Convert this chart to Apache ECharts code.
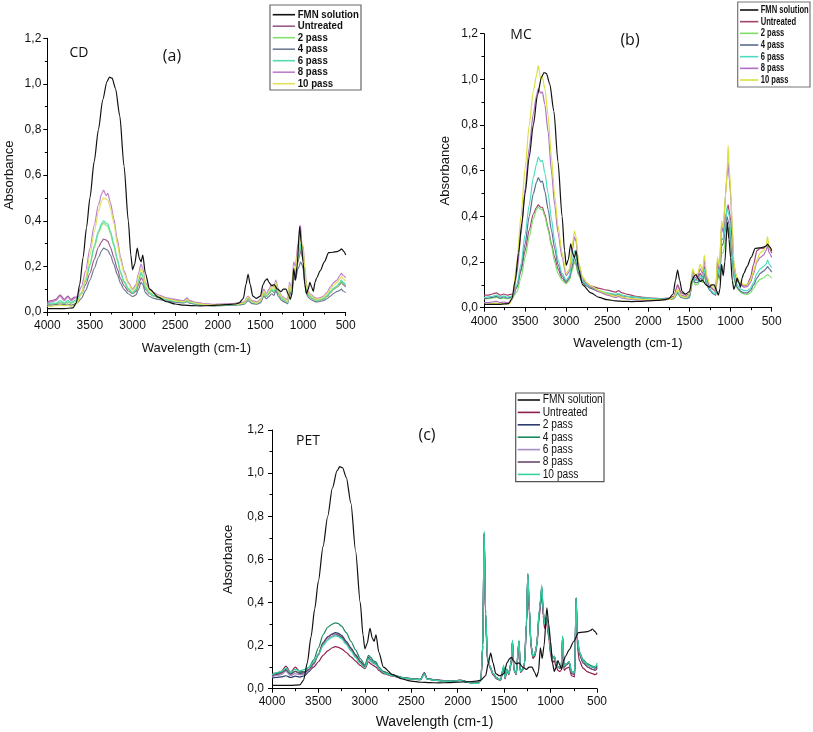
<!DOCTYPE html>
<html><head><meta charset="utf-8">
<script src="https://cdn.jsdelivr.net/npm/echarts@6/dist/echarts.min.js"></script>
<style>html,body{margin:0;padding:0;background:#fff}#c{width:813px;height:732px}</style>
</head><body><div id="c"></div>
<script>
// ---------- DATA ----------
const SERIES_NAMES = ['FMN solution','Untreated','2 pass','4 pass','6 pass','8 pass','10 pass'];
const X_TICK_LABELS = ['500','1000','1500','2000','2500','3000','3500','4000'];
const Y_TICK_LABELS = ['0,0','0,2','0,4','0,6','0,8','1,0','1,2'];

// FMN solution spectrum (same reference in all panels)
const WF = [4000,3900,3800,3700,3660,3620,3580,3540,3500,3450,
  3400,3350,3300,3270,3240,3200,3150,3100,3050,3020,
  3000,2975,2945,2920,2900,2880,2850,2800,2700,2600,
  2500,2400,2300,2200,2100,2000,1900,1800,1750,1700,
  1670,1645,1620,1590,1550,1500,1470,1440,1420,1400,
  1370,1340,1300,1260,1230,1200,1170,1150,1130,1110,
  1090,1070,1040,1020,1000,980,960,940,920,900,
  880,860,840,800,750,700,650,600,570,550,
  520,500];
const FMN = [0.015,0.015,0.015,0.018,0.04,0.12,0.24,0.37,0.5,0.66,
  0.8,0.93,1.01,1.03,1.025,0.98,0.86,0.64,0.4,0.25,
  0.185,0.21,0.28,0.235,0.22,0.25,0.17,0.1,0.065,0.045,
  0.035,0.03,0.028,0.027,0.028,0.03,0.032,0.035,0.04,0.06,
  0.12,0.165,0.12,0.07,0.06,0.07,0.12,0.14,0.145,0.13,
  0.115,0.12,0.1,0.09,0.1,0.1,0.075,0.055,0.08,0.19,
  0.14,0.2,0.375,0.3,0.22,0.12,0.08,0.1,0.13,0.11,
  0.09,0.13,0.15,0.18,0.22,0.26,0.262,0.265,0.27,0.277,
  0.265,0.25];

// Panels (a) CD and (b) MC wavenumbers
const WAB = [4000,3950,3900,3850,3800,3760,3720,3680,3650,3600,
  3550,3500,3450,3400,3360,3340,3310,3290,3260,3220,
  3180,3140,3100,3050,3000,2960,2930,2900,2880,2850,
  2800,2750,2700,2600,2500,2400,2360,2330,2250,2150,
  2050,1950,1850,1750,1690,1645,1600,1540,1500,1460,
  1430,1400,1370,1340,1320,1290,1250,1210,1180,1160,
  1135,1110,1090,1060,1045,1030,1015,1000,980,960,
  940,920,900,870,840,800,760,720,680,640,
  600,570,550,530,500];

// (a) CD
const A_UNT = [0.045,0.05,0.055,0.075,0.055,0.07,0.055,0.065,0.06,0.08,
  0.12,0.17,0.23,0.285,0.31,0.32,0.315,0.31,0.285,0.24,
  0.19,0.145,0.115,0.092,0.08,0.09,0.12,0.15,0.14,0.1,
  0.08,0.07,0.065,0.058,0.052,0.048,0.06,0.048,0.04,0.035,
  0.032,0.034,0.036,0.038,0.042,0.06,0.045,0.04,0.048,0.08,
  0.068,0.08,0.095,0.085,0.11,0.08,0.058,0.05,0.042,0.1,
  0.08,0.17,0.16,0.22,0.24,0.27,0.25,0.23,0.16,0.095,
  0.075,0.068,0.062,0.055,0.05,0.052,0.057,0.068,0.085,0.1,
  0.11,0.12,0.13,0.12,0.11];
const A_P2 = [0.032,0.035,0.036,0.042,0.036,0.044,0.038,0.045,0.05,0.08,
  0.135,0.205,0.28,0.345,0.38,0.39,0.38,0.375,0.345,0.29,
  0.228,0.17,0.13,0.1,0.082,0.096,0.135,0.168,0.155,0.105,
  0.082,0.07,0.062,0.052,0.045,0.041,0.048,0.04,0.034,0.03,
  0.027,0.029,0.03,0.033,0.037,0.056,0.04,0.036,0.045,0.082,
  0.068,0.082,0.097,0.087,0.115,0.082,0.058,0.048,0.04,0.105,
  0.082,0.175,0.165,0.23,0.25,0.29,0.26,0.24,0.165,0.097,
  0.075,0.067,0.062,0.054,0.05,0.052,0.058,0.07,0.087,0.1,
  0.11,0.125,0.135,0.125,0.115];
const A_P4 = [0.03,0.03,0.032,0.035,0.032,0.035,0.03,0.035,0.04,0.06,
  0.095,0.14,0.19,0.24,0.27,0.28,0.275,0.27,0.25,0.21,
  0.165,0.125,0.098,0.08,0.068,0.075,0.1,0.13,0.12,0.085,
  0.068,0.06,0.055,0.048,0.043,0.04,0.046,0.039,0.034,0.03,
  0.027,0.028,0.029,0.031,0.034,0.05,0.037,0.034,0.04,0.07,
  0.058,0.068,0.08,0.072,0.095,0.068,0.05,0.042,0.036,0.09,
  0.07,0.15,0.14,0.19,0.2,0.22,0.21,0.19,0.13,0.08,
  0.065,0.058,0.053,0.047,0.044,0.046,0.05,0.058,0.07,0.082,
  0.09,0.095,0.1,0.092,0.085];
const A_P6 = [0.035,0.04,0.038,0.05,0.04,0.05,0.042,0.05,0.055,0.085,
  0.14,0.21,0.29,0.355,0.39,0.4,0.39,0.385,0.355,0.3,
  0.235,0.175,0.135,0.105,0.085,0.1,0.14,0.175,0.16,0.11,
  0.085,0.072,0.064,0.054,0.047,0.043,0.05,0.042,0.036,0.031,
  0.028,0.03,0.031,0.034,0.038,0.058,0.042,0.038,0.047,0.085,
  0.07,0.085,0.1,0.09,0.12,0.085,0.06,0.05,0.042,0.11,
  0.085,0.18,0.17,0.24,0.26,0.3,0.27,0.25,0.17,0.1,
  0.078,0.07,0.065,0.056,0.052,0.054,0.06,0.072,0.09,0.105,
  0.115,0.13,0.14,0.13,0.12];
const A_P8 = [0.04,0.045,0.05,0.07,0.05,0.065,0.05,0.06,0.07,0.11,
  0.18,0.28,0.38,0.47,0.52,0.535,0.51,0.52,0.48,0.41,
  0.32,0.24,0.18,0.13,0.1,0.12,0.17,0.21,0.19,0.13,
  0.1,0.085,0.075,0.062,0.055,0.05,0.062,0.05,0.042,0.036,
  0.033,0.035,0.036,0.04,0.045,0.07,0.05,0.045,0.055,0.1,
  0.08,0.1,0.12,0.11,0.14,0.1,0.07,0.06,0.05,0.13,
  0.1,0.22,0.2,0.3,0.33,0.38,0.3,0.29,0.2,0.12,
  0.09,0.08,0.075,0.065,0.06,0.062,0.07,0.085,0.11,0.13,
  0.14,0.16,0.17,0.16,0.15];
const A_P10 = [0.025,0.025,0.028,0.03,0.028,0.03,0.025,0.03,0.04,0.08,
  0.15,0.25,0.35,0.44,0.49,0.5,0.495,0.49,0.455,0.39,
  0.3,0.225,0.17,0.125,0.095,0.11,0.155,0.19,0.175,0.12,
  0.095,0.08,0.07,0.058,0.05,0.045,0.055,0.045,0.038,0.033,
  0.03,0.032,0.033,0.036,0.04,0.065,0.045,0.04,0.05,0.09,
  0.075,0.09,0.11,0.1,0.13,0.09,0.065,0.055,0.045,0.12,
  0.09,0.2,0.18,0.27,0.29,0.33,0.3,0.28,0.19,0.11,
  0.085,0.075,0.07,0.06,0.055,0.058,0.065,0.08,0.1,0.12,
  0.13,0.145,0.155,0.145,0.135];

// (b) MC
const B_UNT = [0.055,0.055,0.06,0.065,0.055,0.06,0.055,0.058,0.06,0.09,
  0.16,0.25,0.34,0.41,0.44,0.45,0.44,0.44,0.41,0.35,
  0.28,0.22,0.17,0.13,0.11,0.13,0.17,0.2,0.19,0.15,
  0.12,0.105,0.095,0.085,0.077,0.068,0.075,0.066,0.058,0.05,
  0.045,0.042,0.04,0.042,0.05,0.1,0.065,0.055,0.06,0.14,
  0.12,0.13,0.15,0.13,0.18,0.12,0.09,0.08,0.07,0.2,
  0.15,0.3,0.3,0.4,0.42,0.45,0.42,0.38,0.28,0.18,
  0.14,0.12,0.11,0.1,0.095,0.1,0.13,0.19,0.25,0.26,
  0.26,0.27,0.28,0.26,0.24];
const B_P2 = [0.04,0.04,0.042,0.045,0.04,0.042,0.04,0.042,0.045,0.07,
  0.13,0.22,0.31,0.39,0.43,0.44,0.43,0.43,0.4,0.34,
  0.27,0.2,0.15,0.12,0.105,0.12,0.16,0.2,0.185,0.14,
  0.11,0.095,0.085,0.072,0.063,0.057,0.06,0.055,0.05,0.046,
  0.043,0.04,0.038,0.038,0.04,0.063,0.045,0.04,0.045,0.12,
  0.1,0.1,0.12,0.11,0.14,0.1,0.075,0.065,0.055,0.15,
  0.12,0.24,0.24,0.3,0.33,0.35,0.33,0.28,0.2,0.13,
  0.1,0.085,0.075,0.065,0.06,0.058,0.065,0.085,0.11,0.125,
  0.13,0.14,0.145,0.14,0.13];
const B_P4 = [0.04,0.042,0.045,0.05,0.042,0.048,0.042,0.045,0.05,0.09,
  0.17,0.28,0.4,0.5,0.55,0.57,0.55,0.555,0.51,0.43,
  0.34,0.26,0.19,0.14,0.115,0.13,0.18,0.22,0.2,0.15,
  0.11,0.095,0.085,0.07,0.06,0.055,0.058,0.052,0.048,0.044,
  0.042,0.04,0.038,0.038,0.04,0.065,0.045,0.04,0.045,0.13,
  0.11,0.11,0.13,0.12,0.15,0.1,0.075,0.06,0.055,0.16,
  0.13,0.27,0.28,0.35,0.4,0.38,0.36,0.3,0.22,0.14,
  0.11,0.09,0.08,0.07,0.065,0.065,0.075,0.1,0.13,0.15,
  0.16,0.17,0.18,0.17,0.155];
const B_P6 = [0.045,0.048,0.05,0.055,0.047,0.052,0.046,0.05,0.052,0.1,
  0.19,0.32,0.45,0.57,0.63,0.66,0.64,0.645,0.59,0.5,
  0.39,0.29,0.21,0.15,0.12,0.14,0.2,0.25,0.23,0.16,
  0.12,0.1,0.09,0.075,0.065,0.058,0.062,0.055,0.05,0.045,
  0.042,0.04,0.038,0.038,0.042,0.07,0.048,0.043,0.05,0.14,
  0.12,0.12,0.14,0.13,0.17,0.11,0.08,0.065,0.06,0.18,
  0.14,0.3,0.3,0.38,0.44,0.42,0.4,0.33,0.24,0.15,
  0.12,0.1,0.09,0.08,0.075,0.075,0.085,0.11,0.15,0.17,
  0.18,0.19,0.21,0.19,0.175];
const B_P8 = [0.022,0.022,0.025,0.028,0.022,0.025,0.022,0.025,0.04,0.15,
  0.32,0.52,0.7,0.85,0.93,0.96,0.94,0.945,0.89,0.77,
  0.6,0.45,0.33,0.22,0.14,0.16,0.24,0.31,0.29,0.19,
  0.13,0.105,0.09,0.07,0.055,0.045,0.05,0.043,0.038,0.035,
  0.033,0.033,0.034,0.036,0.045,0.095,0.055,0.048,0.055,0.16,
  0.13,0.14,0.17,0.15,0.21,0.13,0.09,0.08,0.07,0.21,
  0.17,0.36,0.33,0.5,0.57,0.64,0.56,0.5,0.34,0.19,
  0.15,0.12,0.11,0.1,0.09,0.092,0.11,0.15,0.2,0.22,
  0.23,0.25,0.27,0.24,0.22];
const B_P10 = [0.015,0.015,0.018,0.02,0.016,0.018,0.016,0.02,0.05,0.2,
  0.4,0.61,0.8,0.95,1.02,1.06,1.0,1.01,0.96,0.84,
  0.66,0.49,0.36,0.24,0.15,0.17,0.26,0.335,0.31,0.2,
  0.135,0.11,0.095,0.075,0.06,0.05,0.055,0.047,0.042,0.038,
  0.035,0.034,0.034,0.036,0.045,0.08,0.05,0.045,0.06,0.17,
  0.14,0.15,0.19,0.16,0.23,0.14,0.1,0.09,0.08,0.22,
  0.18,0.38,0.35,0.5,0.58,0.71,0.6,0.52,0.36,0.2,
  0.15,0.13,0.12,0.11,0.1,0.1,0.12,0.16,0.21,0.24,
  0.25,0.27,0.31,0.26,0.25];

// (c) PET
const WC = [4000,3950,3900,3850,3800,3750,3700,3650,3600,3550,
  3500,3450,3400,3350,3320,3290,3250,3200,3150,3100,
  3050,3000,2960,2935,2910,2880,2850,2800,2700,2600,
  2500,2400,2360,2330,2250,2150,2050,1970,1900,1830,
  1780,1750,1730,1715,1700,1680,1650,1620,1580,1540,
  1505,1490,1470,1450,1425,1410,1395,1370,1340,1325,
  1300,1280,1260,1245,1230,1210,1190,1170,1150,1120,
  1110,1095,1080,1065,1045,1020,1000,980,960,940,
  920,900,885,870,855,830,800,775,740,725,
  710,690,650,600,550,520,505,500];
const C_UNT = [0.07,0.072,0.08,0.105,0.075,0.1,0.08,0.078,0.085,0.1,
  0.125,0.155,0.175,0.19,0.195,0.193,0.185,0.168,0.148,0.128,
  0.108,0.093,0.125,0.115,0.108,0.1,0.085,0.07,0.058,0.05,
  0.046,0.043,0.075,0.047,0.042,0.038,0.036,0.04,0.032,0.027,
  0.026,0.04,0.19,0.7,0.33,0.13,0.095,0.065,0.045,0.037,
  0.095,0.045,0.085,0.065,0.11,0.21,0.085,0.065,0.21,0.075,
  0.085,0.115,0.29,0.51,0.36,0.19,0.14,0.15,0.19,0.34,
  0.38,0.45,0.34,0.28,0.31,0.24,0.16,0.12,0.13,0.1,
  0.085,0.08,0.085,0.21,0.085,0.095,0.1,0.06,0.055,0.38,
  0.19,0.13,0.095,0.078,0.07,0.065,0.068,0.075];
const C_P2 = [0.05,0.052,0.055,0.06,0.052,0.058,0.054,0.06,0.08,0.115,
  0.16,0.21,0.24,0.255,0.26,0.258,0.247,0.22,0.19,0.158,
  0.128,0.103,0.145,0.135,0.123,0.118,0.097,0.078,0.062,0.052,
  0.047,0.043,0.072,0.046,0.041,0.036,0.036,0.039,0.031,0.026,
  0.026,0.041,0.2,0.72,0.35,0.14,0.1,0.07,0.05,0.04,
  0.1,0.05,0.09,0.07,0.12,0.22,0.09,0.07,0.22,0.08,
  0.09,0.12,0.3,0.53,0.38,0.2,0.15,0.16,0.2,0.36,
  0.4,0.47,0.36,0.3,0.33,0.26,0.18,0.14,0.15,0.12,
  0.1,0.1,0.105,0.24,0.105,0.115,0.125,0.08,0.075,0.42,
  0.23,0.17,0.13,0.11,0.1,0.095,0.1,0.105];
const C_P4 = [0.065,0.07,0.075,0.085,0.07,0.08,0.075,0.078,0.1,0.135,
  0.19,0.25,0.285,0.3,0.305,0.303,0.29,0.26,0.22,0.18,
  0.14,0.11,0.155,0.145,0.13,0.125,0.1,0.08,0.063,0.053,
  0.047,0.043,0.072,0.046,0.041,0.036,0.036,0.039,0.031,0.026,
  0.026,0.041,0.2,0.72,0.35,0.14,0.1,0.07,0.05,0.04,
  0.1,0.05,0.09,0.07,0.12,0.22,0.09,0.07,0.22,0.08,
  0.09,0.12,0.3,0.53,0.38,0.2,0.15,0.16,0.2,0.36,
  0.4,0.47,0.36,0.3,0.33,0.26,0.18,0.14,0.15,0.12,
  0.1,0.1,0.105,0.24,0.105,0.115,0.125,0.08,0.075,0.42,
  0.23,0.17,0.135,0.115,0.105,0.1,0.105,0.11];
const C_P6 = [0.055,0.06,0.065,0.08,0.06,0.07,0.065,0.068,0.085,0.115,
  0.155,0.205,0.232,0.245,0.25,0.248,0.237,0.21,0.18,0.15,
  0.12,0.098,0.138,0.128,0.118,0.112,0.093,0.074,0.059,0.05,
  0.045,0.042,0.07,0.045,0.04,0.035,0.035,0.038,0.03,0.025,
  0.025,0.04,0.2,0.71,0.35,0.14,0.1,0.07,0.05,0.04,
  0.1,0.05,0.09,0.07,0.12,0.22,0.09,0.07,0.22,0.08,
  0.09,0.12,0.3,0.52,0.38,0.2,0.15,0.16,0.2,0.36,
  0.4,0.46,0.36,0.3,0.33,0.26,0.18,0.14,0.15,0.12,
  0.1,0.095,0.1,0.23,0.1,0.11,0.12,0.075,0.07,0.41,
  0.22,0.16,0.12,0.1,0.09,0.085,0.09,0.095];
const C_P8 = [0.06,0.065,0.072,0.09,0.066,0.08,0.07,0.075,0.09,0.12,
  0.16,0.215,0.24,0.253,0.255,0.25,0.24,0.215,0.185,0.155,
  0.125,0.1,0.14,0.13,0.12,0.115,0.095,0.075,0.06,0.05,
  0.045,0.042,0.07,0.045,0.04,0.035,0.035,0.038,0.03,0.025,
  0.025,0.04,0.2,0.72,0.35,0.14,0.1,0.07,0.05,0.04,
  0.1,0.05,0.09,0.07,0.12,0.22,0.09,0.07,0.22,0.08,
  0.09,0.12,0.3,0.53,0.38,0.2,0.15,0.16,0.2,0.36,
  0.4,0.47,0.36,0.3,0.33,0.26,0.18,0.14,0.15,0.12,
  0.1,0.095,0.1,0.24,0.1,0.11,0.12,0.07,0.065,0.42,
  0.22,0.16,0.12,0.1,0.09,0.085,0.09,0.1];
const C_P10 = [0.065,0.075,0.08,0.095,0.075,0.09,0.082,0.09,0.1,0.125,
  0.16,0.2,0.225,0.24,0.245,0.243,0.232,0.205,0.175,0.145,
  0.118,0.097,0.14,0.13,0.12,0.113,0.094,0.075,0.06,0.05,
  0.045,0.042,0.068,0.045,0.04,0.035,0.035,0.038,0.03,0.025,
  0.025,0.04,0.21,0.73,0.36,0.15,0.1,0.07,0.05,0.04,
  0.11,0.05,0.09,0.07,0.12,0.225,0.09,0.07,0.225,0.08,
  0.09,0.12,0.31,0.535,0.39,0.2,0.15,0.16,0.2,0.37,
  0.41,0.48,0.37,0.3,0.33,0.26,0.18,0.14,0.15,0.12,
  0.1,0.1,0.105,0.245,0.105,0.115,0.125,0.08,0.075,0.42,
  0.23,0.17,0.13,0.11,0.1,0.1,0.11,0.12];

// ---------- STYLE / LAYOUT ----------
const FONT = 'Liberation Sans, Arial, sans-serif';
const PANELS = [
  {key:'a', grid:{left:47.3, top:38.3, width:298.4, height:273.7},
   xs:[WAB,WAB,WAB,WAB,WAB,WAB], ys:[A_UNT,A_P2,A_P4,A_P6,A_P8,A_P10],
   colors:['#111111','#9b5a8c','#86e070','#6f7b92','#55ddb0','#c07fcc','#dfe25a'],
   xNameGap:30, yNameGap:31, yLabelMargin:6, xLabelMargin:8, xNameSize:13,
   leg:{x0:270, y0:5, w:91, h:85, row0:14.7, step:11.5, lx0:272.7, lx1:295, tx:297.7,
        fontSize:10.5, fontWeight:'bold', scaleX:0.92, border:'#666'}},
  {key:'b', grid:{left:484, top:33.7, width:287.7, height:274},
   xs:[WAB,WAB,WAB,WAB,WAB,WAB], ys:[B_UNT,B_P2,B_P4,B_P6,B_P8,B_P10],
   colors:['#111111','#a2446f','#7ee06a','#5d6b90','#4fdcc0','#b06fc2','#d9e040'],
   xNameGap:29, yNameGap:32, yLabelMargin:6, xLabelMargin:8, xNameSize:13,
   leg:{x0:737.7, y0:2, w:72.3, h:85, row0:10, step:11.67, lx0:740, lx1:758.3, tx:760.7,
        fontSize:11, fontWeight:'bold', scaleX:0.69, border:'#777'}},
  {key:'c', grid:{left:272, top:430, width:325, height:258.7},
   xs:[WC,WC,WC,WC,WC,WC], ys:[C_UNT,C_P2,C_P4,C_P6,C_P8,C_P10],
   colors:['#111111','#8c1f4c','#2d3b6e','#1b8a5a','#a58cc8','#6b4a6e','#33d3a2'],
   xNameGap:26, yNameGap:37, yLabelMargin:8, xLabelMargin:7, xNameSize:14,
   leg:{x0:515.7, y0:393, w:88.3, h:88.7, row0:400, step:12.4, lx0:517.7, lx1:540, tx:542.7,
        fontSize:12, fontWeight:'normal', scaleX:0.85, border:'#555'}}
];

const grid = [], xAxis = [], yAxis = [], series = [], graphic = [];
PANELS.forEach((p, gi) => {
  grid.push(Object.assign({containLabel:false}, p.grid));
  xAxis.push({
    gridIndex:gi, type:'value', min:500, max:4000, interval:500, inverse:true,
    axisLine:{show:true, onZero:false, lineStyle:{color:'#000', width:1}},
    axisTick:{show:true, inside:false, length:4, lineStyle:{color:'#000'}},
    minorTick:{show:true, splitNumber:2, length:2.5, lineStyle:{color:'#000'}},
    splitLine:{show:false},
    axisLabel:{fontSize:12, color:'#111', margin:p.xLabelMargin, fontFamily:FONT,
      formatter:v => X_TICK_LABELS[Math.round((v-500)/500)]},
    name:'Wavelength (cm-1)', nameLocation:'middle', nameGap:p.xNameGap,
    nameTextStyle:{fontSize:p.xNameSize, color:'#111', fontFamily:FONT}
  });
  yAxis.push({
    gridIndex:gi, type:'value', min:0, max:1.2, interval:0.2,
    axisLine:{show:true, lineStyle:{color:'#000', width:1}},
    axisTick:{show:true, inside:false, length:4, lineStyle:{color:'#000'}},
    minorTick:{show:true, splitNumber:2, length:2.5, lineStyle:{color:'#000'}},
    splitLine:{show:false},
    axisLabel:{fontSize:12, color:'#111', margin:p.yLabelMargin, fontFamily:FONT,
      formatter:v => Y_TICK_LABELS[Math.round(v/0.2)]},
    name:'Absorbance', nameLocation:'middle', nameGap:p.yNameGap,
    nameTextStyle:{fontSize:13, color:'#111', fontFamily:FONT}
  });
  const pairs = (xs, ys) => xs.map((w, i) => [w, ys[i]]);
  const allX = [WF].concat(p.xs), allY = [FMN].concat(p.ys);
  SERIES_NAMES.forEach((nm, si) => {
    series.push({
      type:'line', name:p.key + '|' + nm, xAxisIndex:gi, yAxisIndex:gi,
      data:pairs(allX[si], allY[si]), showSymbol:false, symbol:'none',
      smooth:0.25, smoothMonotone:'x',
      color:p.colors[si], lineStyle:{width:1.2, color:p.colors[si]},
      z: si === 0 ? 3 : 2, silent:true
    });
  });
  // boxed legend
  const L = p.leg;
  graphic.push({type:'rect', z:20, shape:{x:L.x0, y:L.y0, width:L.w, height:L.h},
    style:{fill:'#fff', stroke:L.border, lineWidth:1.2}});
  SERIES_NAMES.forEach((nm, si) => {
    const yy = L.row0 + si * L.step;
    graphic.push({type:'line', z:21, shape:{x1:L.lx0, y1:yy, x2:L.lx1, y2:yy},
      style:{stroke:p.colors[si], lineWidth:1.6}});
    graphic.push({type:'text', z:21, x:L.tx, y:yy, scaleX:L.scaleX,
      style:{text:nm, fontSize:L.fontSize, fontWeight:L.fontWeight, fontFamily:FONT, fill:'#111',
        align:'left', verticalAlign:'middle', textAlign:'left', textVerticalAlign:'middle'}});
  });
});

const panelText = (txt, x, y, size) => ({type:'text', x:x, y:y, z:10,
  style:{text:txt, fontSize:size, fontFamily:'Open Sans, Noto Sans, sans-serif', fill:'#111',
    align:'center', verticalAlign:'middle', textAlign:'center', textVerticalAlign:'middle'}});
graphic.push(
  panelText('CD', 79, 53, 14), panelText('(a)', 172, 56, 16),
  panelText('MC', 521, 35, 14), panelText('(b)', 630, 40, 16),
  panelText('PET', 308, 441, 14), panelText('(c)', 427, 435, 16)
);

const chart = echarts.init(document.getElementById('c'), null, {renderer:'canvas'});
chart.setOption({
  animation:false, backgroundColor:'#fff',
  grid, xAxis, yAxis, series, graphic
});
</script></body></html>
